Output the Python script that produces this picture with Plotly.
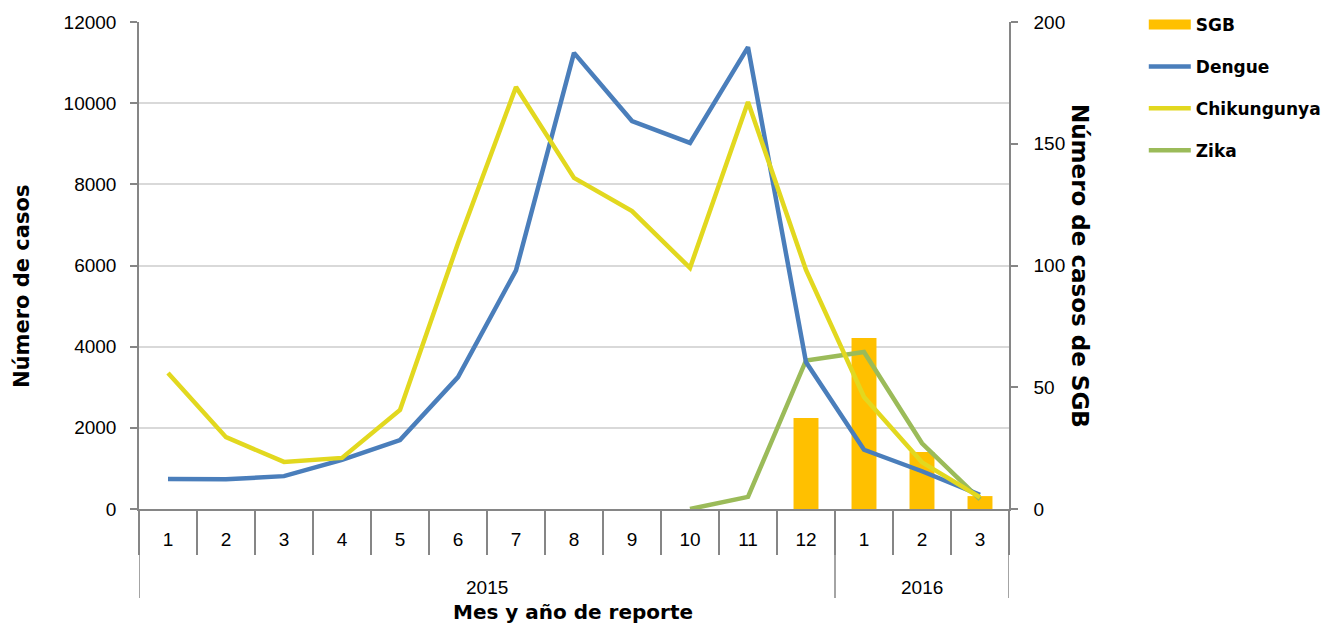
import plotly.graph_objects as go

years = ["2015"] * 12 + ["2016"] * 3
months = ["1", "2", "3", "4", "5", "6", "7", "8", "9", "10", "11", "12", "1", "2", "3"]

dengue = [740, 730, 810, 1210, 1700, 3250, 5880, 11240, 9560, 9020, 11380, 3620, 1460, 930, 350]
chikungunya = [3350, 1770, 1160, 1260, 2440, 6550, 10400, 8160, 7340, 5940, 10030, 5890, 2760, 1150, 290]
zika = [None, None, None, None, None, None, None, None, None, 0, 5, 61, 64.5, 27, 4]
sgb = [None, None, None, None, None, None, None, None, None, None, None, 37.4, 70.2, 23.4, 5.3]

left_ticks = [0, 2000, 4000, 6000, 8000, 10000, 12000]
right_ticks = [0, 50, 100, 150, 200]

# category positions along the x axis
xi = list(range(len(months)))
boundaries = [i - 0.5 for i in xi] + [xi[-1] + 0.5]

# year groups (for the second row of labels and the dividers)
groups = []
for i, yv in enumerate(years):
    if not groups or groups[-1][0] != yv:
        groups.append([yv, i, i])
    else:
        groups[-1][2] = i

SGB_COLOR = "#FFC000"
AX = "#868686"

# page body has an 8px margin: shift the figure so the plot area lands at the same place
BODY = 8
W, H = 1330 - BODY, 626 - BODY
PL, PT, PW, PH = 139 - BODY, 22 - BODY, 870, 487

fig = go.Figure()
fig.add_trace(go.Bar(x=xi, y=sgb, name="SGB", marker=dict(color=SGB_COLOR, line=dict(width=0)),
                     width=0.43, yaxis="y", showlegend=False))
fig.add_trace(go.Scatter(x=[None], y=[None], name="SGB", mode="lines",
                         line=dict(color=SGB_COLOR, width=11), yaxis="y",
                         legendgroup="a", legendrank=1))
fig.add_trace(go.Scatter(x=xi, y=zika, name="Zika", mode="lines", line=dict(color="#9BBB59", width=4.5),
                         yaxis="y", legendgroup="d", legendrank=4))
fig.add_trace(go.Scatter(x=xi, y=dengue, name="Dengue", mode="lines", line=dict(color="#4A7EBB", width=4.5),
                         yaxis="y2", legendgroup="b", legendrank=2))
fig.add_trace(go.Scatter(x=xi, y=chikungunya, name="Chikungunya", mode="lines",
                         line=dict(color="#E2D81F", width=4.5),
                         yaxis="y2", legendgroup="c", legendrank=3))

tickfont = dict(family="Liberation Sans", size=19, color="#000000")
boldfam = "DejaVu Sans"


def py(page_y):
    return (PT + BODY + PH - page_y) / PH


def px(page_x):
    return (page_x - PL - BODY) / PW


shapes = []
annotations = []
for yv, a, b in groups:
    annotations.append(dict(text=yv, xref="x", yref="paper", x=(a + b) / 2, y=py(587),
                            showarrow=False, font=tickfont, xanchor="center", yanchor="middle"))
div_x = sorted(set([g[1] - 0.5 for g in groups] + [groups[-1][2] + 0.5]))
for dx in div_x:
    shapes.append(dict(type="line", xref="x", yref="paper", x0=dx, x1=dx, y0=0, y1=py(598),
                       line=dict(color=AX, width=1.5)))

annotations += [
    dict(text="Número de casos", xref="paper", yref="paper", x=px(22), y=py(287),
         textangle=-90, showarrow=False,
         font=dict(family=boldfam, size=21, color="#000000", weight="bold"),
         xanchor="center", yanchor="middle"),
    dict(text="Número de casos de SGB", xref="paper", yref="paper", x=px(1080),
         y=py(266), textangle=90, showarrow=False,
         font=dict(family=boldfam, size=23, color="#000000", weight="bold"),
         xanchor="center", yanchor="middle"),
    dict(text="Mes y año de reporte", xref="paper", yref="paper", x=px(573),
         y=py(612), showarrow=False,
         font=dict(family=boldfam, size=20, color="#000000", weight="bold"),
         xanchor="center", yanchor="middle"),
]

fig.update_layout(
    width=W, height=H,
    margin=dict(l=PL, r=W - PL - PW, t=PT, b=H - PT - PH, autoexpand=False),
    paper_bgcolor="white", plot_bgcolor="white",
    showlegend=True,
    legend=dict(x=px(1149) - 0.006, xanchor="left", y=py(7), yanchor="top",
                font=dict(family=boldfam, size=17, color="#000000", weight="bold"),
                tracegroupgap=16.8, itemwidth=42),
    xaxis=dict(range=[boundaries[0], boundaries[-1]], tickvals=xi, ticktext=months,
               showline=True, linecolor=AX, linewidth=1.5, ticks="",
               minor=dict(tickvals=boundaries, ticks="outside", ticklen=44, tickcolor=AX, tickwidth=1.5,
                          showgrid=False),
               tickfont=tickfont, showgrid=False, zeroline=False, ticklabelstandoff=12, automargin=False),
    yaxis=dict(range=[0, 200], side="right", tickvals=right_ticks, tickformat="d",
               showgrid=False, showline=True, linecolor=AX, linewidth=1.5,
               ticks="outside", ticklen=7, tickcolor=AX, tickwidth=1.5,
               tickfont=tickfont, ticklabelstandoff=12, zeroline=False, automargin=False),
    yaxis2=dict(range=[0, 12000], side="left", overlaying="y", tickvals=left_ticks, tickformat="d",
                showgrid=True, gridcolor="#D9D9D9", gridwidth=1.5,
                showline=True, linecolor=AX, linewidth=1.5,
                ticks="outside", ticklen=7, tickcolor=AX, tickwidth=1.5,
                tickfont=tickfont, ticklabelstandoff=10, zeroline=False, automargin=False),
    shapes=shapes,
    annotations=annotations,
)

fig.write_html("out.html")
